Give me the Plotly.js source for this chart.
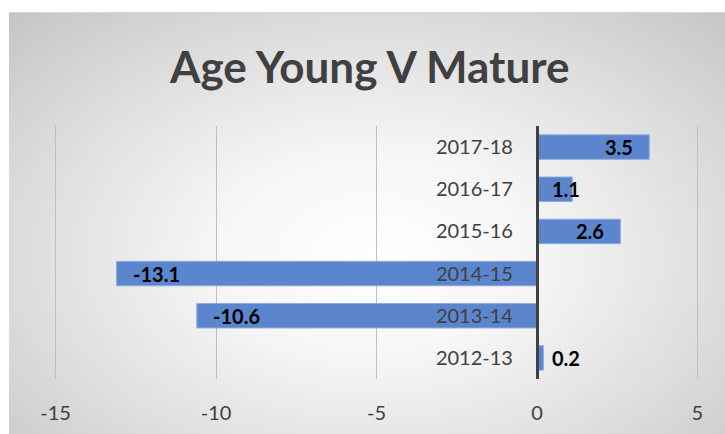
<!DOCTYPE html>
<html>
<head>
<meta charset="utf-8">
<script src="https://cdn.plot.ly/plotly-3.0.1.min.js"></script>
<style>
  html, body { margin: 0; padding: 0; background: #ffffff; overflow: hidden; }
  #frame {
    position: absolute; left: 9px; top: 12px; width: 730px; height: 440px;
    background: radial-gradient(ellipse 72% 78% at 50% 55%, #ffffff 0%, #f6f6f6 30%, #dedede 65%, #c4c4c4 100%);
    border-top: 1px solid #d6d6d6;
  }
  #chart { position: absolute; left: 0; top: 0; width: 725px; height: 434px; }
</style>
</head>
<body>
<div id="frame"></div>
<div id="chart"></div>
<script>
const categories = ["2012-13", "2013-14", "2014-15", "2015-16", "2016-17", "2017-18"];
const values = [0.2, -10.6, -13.1, 2.6, 1.1, 3.5];
const labels = ["0.2", "-10.6", "-13.1", "2.6", "1.1", "3.5"];
const xTicks = [-15, -10, -5, 0, 5];

const textColor = "#404040";
const fontFam = "Lato, 'Open Sans', sans-serif";
const xMin = -15.3, xMax = 5.3;

const trace = {
  type: "bar",
  orientation: "h",
  y: categories,
  x: values,
  marker: { color: "#5b86ce", line: { color: "#8eaade", width: 1 } },
  hoverinfo: "none"
};

// data labels: inside end; short bars put the label just right of the baseline
const annotations = values.map((v, i) => {
  const small = Math.abs(v) < 1.5;
  return {
    x: small ? 0 : v,
    y: categories[i],
    xref: "x", yref: "y",
    text: "<b>" + labels[i] + "</b>",
    showarrow: false,
    xanchor: small ? "left" : (v > 0 ? "right" : "left"),
    xshift: small ? 13 : (v > 0 ? -14 : 14),
    yshift: 0,
    font: { family: fontFam, size: 20, color: "#000000" }
  };
});

const layout = {
  width: 725,
  height: 434,
  margin: { l: 46, r: 18, t: 126, b: 55 },
  paper_bgcolor: "rgba(0,0,0,0)",
  plot_bgcolor: "rgba(0,0,0,0)",
  showlegend: false,
  bargap: 0.42,
  annotations: annotations,
  title: {
    text: "<b>Age Young V Mature</b>",
    x: 0.51, xanchor: "center",
    y: 0.845, yanchor: "middle",
    font: { family: fontFam, size: 44, color: textColor }
  },
  xaxis: {
    range: [xMin, xMax],
    tickvals: xTicks,
    ticktext: xTicks.map(String),
    showgrid: true,
    gridcolor: "#bfbfbf",
    gridwidth: 1,
    zeroline: false,
    showline: false,
    ticks: "",
    ticklabelstandoff: 20,
    tickfont: { family: fontFam, size: 20, color: textColor },
    fixedrange: true
  },
  yaxis: {
    type: "category",
    categoryorder: "array",
    categoryarray: categories,
    anchor: "free",
    position: (0 - xMin) / (xMax - xMin),
    side: "left",
    showline: true,
    linecolor: "#404040",
    linewidth: 3,
    showgrid: false,
    zeroline: false,
    ticks: "",
    ticklabelstandoff: 19,
    tickfont: { family: fontFam, size: 20, color: textColor },
    fixedrange: true
  }
};

Plotly.newPlot("chart", [trace], layout, { displayModeBar: false, staticPlot: true });
</script>
</body>
</html>
